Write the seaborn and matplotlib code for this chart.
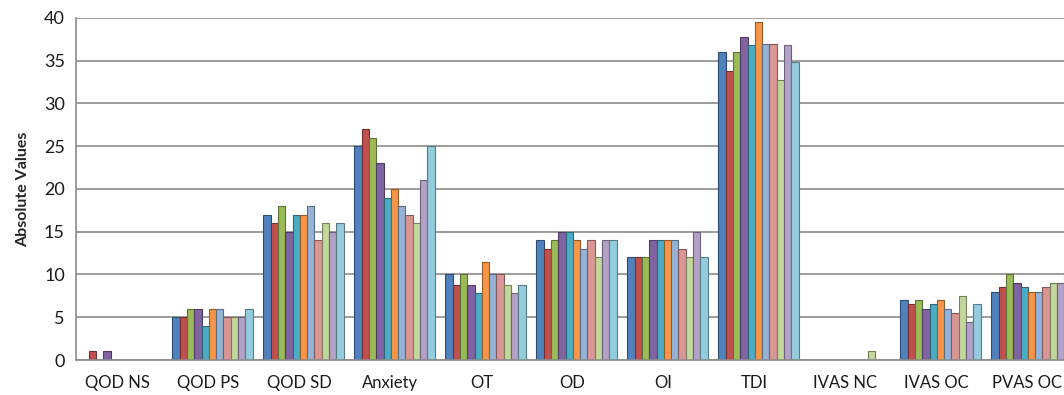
import pandas as pd
import seaborn as sns
import matplotlib.pyplot as plt
import matplotlib.transforms as mtransforms

# Categories on the x axis.
categories = ['QOD NS', 'QOD PS', 'QOD SD', 'Anxiety', 'OT', 'OD', 'OI',
              'TDI', 'IVAS NC', 'IVAS OC', 'PVAS OC']

# One list per series (11 series, no legend in the original).
series_1 = [0, 5, 17, 25, 10.0, 14, 12, 36.0, 0, 7.0, 8.0]
series_2 = [1, 5, 16, 27, 8.8, 13, 12, 33.8, 0, 6.5, 8.5]
series_3 = [0, 6, 18, 26, 10.0, 14, 12, 36.0, 0, 7.0, 10.0]
series_4 = [1, 6, 15, 23, 8.8, 15, 14, 37.8, 0, 6.0, 9.0]
series_5 = [0, 4, 17, 19, 7.8, 15, 14, 36.8, 0, 6.5, 8.5]
series_6 = [0, 6, 17, 20, 11.5, 14, 14, 39.5, 0, 7.0, 8.0]
series_7 = [0, 6, 18, 18, 10.0, 13, 14, 37.0, 0, 6.0, 8.0]
series_8 = [0, 5, 14, 17, 10.0, 14, 13, 37.0, 0, 5.5, 8.5]
series_9 = [0, 5, 16, 16, 8.8, 12, 12, 32.8, 1, 7.5, 9.0]
series_10 = [0, 5, 15, 21, 7.8, 14, 15, 36.8, 0, 4.5, 9.0]
series_11 = [0, 6, 16, 25, 8.8, 14, 12, 34.8, 0, 6.5, 10.0]

all_series = [series_1, series_2, series_3, series_4, series_5, series_6,
              series_7, series_8, series_9, series_10, series_11]
series_names = [f'Series {i + 1}' for i in range(len(all_series))]

# Office 2007 style palette.
palette = ['#4F81BD', '#C0504D', '#9BBB59', '#8064A2', '#4BACC6', '#F79646',
           '#95B3D7', '#D99694', '#C3D69B', '#B3A2C7', '#93CDDD']

# Long-form table for seaborn.
rows = []
for name, values in zip(series_names, all_series):
    for cat, v in zip(categories, values):
        rows.append({'category': cat, 'series': name, 'value': v})
df = pd.DataFrame(rows)

sns.set_style('white')
plt.rcParams['font.family'] = ['Lato', 'DejaVu Sans']

fig = plt.figure(figsize=(10.64, 3.95), dpi=100)
ax = fig.add_axes([0.0714, 0.0886, 0.9408, 0.866])

sns.barplot(data=df, x='category', y='value', hue='series', order=categories,
            hue_order=series_names, palette=palette, width=0.88, gap=0,
            saturation=1, legend=False, ax=ax)

# Darker outline on each bar, like the original's column edges.
for patch in ax.patches:
    r, g, b, _ = patch.get_facecolor()
    patch.set_edgecolor((r * 0.6, g * 0.6, b * 0.6))
    patch.set_linewidth(0.8)

ax.set_ylim(0, 40)
ax.set_yticks(range(0, 41, 5))
ax.yaxis.grid(True, color='#8C8C8C', linewidth=1.2)
ax.set_axisbelow(True)

for side in ['top', 'right']:
    ax.spines[side].set_visible(False)
for side in ['left', 'bottom']:
    ax.spines[side].set_color('#8C8C8C')
    ax.spines[side].set_linewidth(1.2)

ax.tick_params(axis='y', length=5, color='#8C8C8C', labelsize=13, pad=3,
               labelcolor='#1a1a1a')
ax.tick_params(axis='x', length=0, labelsize=12, pad=11,
               labelcolor='#1a1a1a')

# Category labels sit a little left of the bars (3D depth in the original).
shift = mtransforms.ScaledTranslation(-4 / 100, 0, fig.dpi_scale_trans)
for lbl in ax.get_xticklabels():
    lbl.set_transform(lbl.get_transform() + shift)

ax.set_xlabel('')
ax.set_ylabel('Absolute Values', fontsize=11.5, fontweight='bold',
              labelpad=10)

plt.savefig('out.png', dpi=100)
